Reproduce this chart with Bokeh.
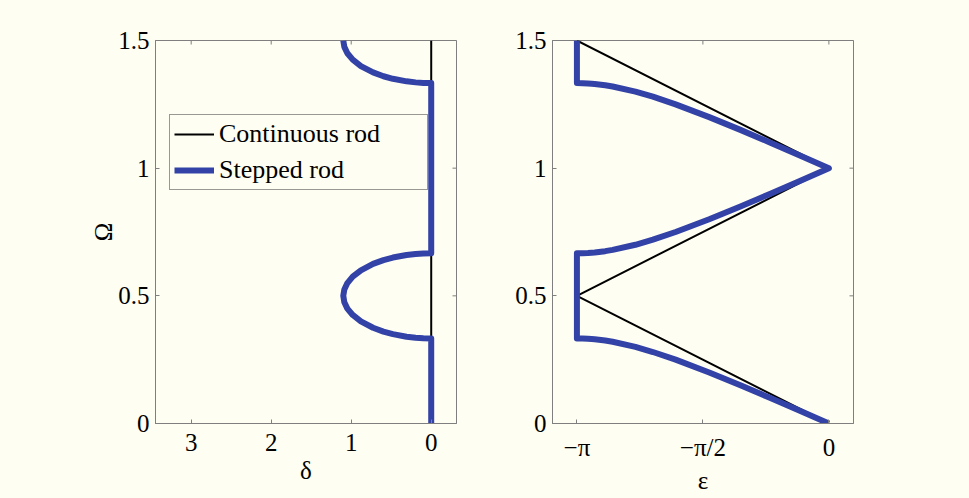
import math

from bokeh.plotting import figure
from bokeh.layouts import row
from bokeh.models import Range1d, FixedTicker, Legend, LegendItem
from bokeh.embed import file_html
from bokeh.resources import INLINE

PI = math.pi

# ---- data -----------------------------------------------------------------
# Continuous (uniform) rod: real wavenumber folded into [-pi, 0], no attenuation
omega_cont = [0.0, 0.5, 1.0, 1.5]
eps_cont = [0.0, -PI, 0.0, -PI]
delta_cont = [0.0, 0.0, 0.0, 0.0]

# Stepped rod: pass bands and stop bands (gaps at 1/3..2/3 and 4/3..5/3)
omega_step = [
    # pass band 1
    0.0, 0.05, 0.10, 0.15, 0.20, 0.25, 0.28, 0.30, 0.32, 0.325, 0.33, 0.331, 0.332, 0.333,
    # stop band 1
    0.3333, 0.334, 0.336, 0.34, 0.35, 0.36, 0.375, 0.40, 0.425, 0.45, 0.475, 0.50,
    0.525, 0.55, 0.575, 0.60, 0.625, 0.64, 0.65, 0.66, 0.664, 0.666, 0.6667,
    # pass band 2
    0.667, 0.668, 0.669, 0.67, 0.675, 0.68, 0.70, 0.72, 0.75, 0.80, 0.85, 0.90, 0.95, 1.00,
    # pass band 3
    1.05, 1.10, 1.15, 1.20, 1.25, 1.28, 1.30, 1.32, 1.325, 1.33, 1.331, 1.332, 1.333,
    # stop band 2
    1.3333, 1.334, 1.336, 1.34, 1.35, 1.36, 1.375, 1.40, 1.425, 1.45, 1.475, 1.50,
]
eps_step = [
    0.0, -0.362, -0.729, -1.103, -1.492, -1.911, -2.194, -2.412, -2.696, -2.789, -2.920, -2.958, -3.004, -3.072,
    -3.1416, -3.1416, -3.1416, -3.1416, -3.1416, -3.1416, -3.1416, -3.1416, -3.1416, -3.1416, -3.1416, -3.1416,
    -3.1416, -3.1416, -3.1416, -3.1416, -3.1416, -3.1416, -3.1416, -3.1416, -3.1416, -3.1416, -3.1416,
    -3.072, -3.004, -2.958, -2.920, -2.789, -2.696, -2.412, -2.194, -1.911, -1.492, -1.103, -0.729, -0.362, 0.0,
    -0.362, -0.729, -1.103, -1.492, -1.911, -2.194, -2.412, -2.696, -2.789, -2.920, -2.958, -3.004, -3.072,
    -3.1416, -3.1416, -3.1416, -3.1416, -3.1416, -3.1416, -3.1416, -3.1416, -3.1416, -3.1416, -3.1416, -3.1416,
]
delta_step = [
    0.0, 0.0, 0.0, 0.0, 0.0, 0.0, 0.0, 0.0, 0.0, 0.0, 0.0, 0.0, 0.0, 0.0,
    0.0, 0.098, 0.195, 0.308, 0.479, 0.597, 0.727, 0.879, 0.981, 1.048, 1.086, 1.099,
    1.086, 1.048, 0.981, 0.879, 0.727, 0.597, 0.479, 0.308, 0.195, 0.098, 0.0,
    0.0, 0.0, 0.0, 0.0, 0.0, 0.0, 0.0, 0.0, 0.0, 0.0, 0.0, 0.0, 0.0, 0.0,
    0.0, 0.0, 0.0, 0.0, 0.0, 0.0, 0.0, 0.0, 0.0, 0.0, 0.0, 0.0, 0.0,
    0.0, 0.098, 0.195, 0.308, 0.479, 0.597, 0.727, 0.879, 0.981, 1.048, 1.086, 1.099,
]

# ticks
omega_ticks = [0.0, 0.5, 1.0, 1.5]
omega_labels = ["0", "0.5", "1", "1.5"]
delta_ticks = [3.0, 2.0, 1.0, 0.0]
delta_labels = ["3", "2", "1", "0"]
eps_ticks = [-PI, -PI / 2, 0.0]
eps_labels = ["\u2212\u03c0", "\u2212\u03c0/2", "0"]

# ---- style ----------------------------------------------------------------
CREAM = "#fffef2"
GRAY = "#7f7f7f"
BLUE = "#3342a6"
FONT = "Liberation Serif"
TICK_FS = "25px"
LABEL_FS = "25px"
LEGEND_FS = "26px"


def style_axis(ax, ticks, labels, title, standoff, title_standoff):
    ax.ticker = FixedTicker(ticks=ticks)
    ax.major_label_overrides = dict(zip(ticks, labels))
    ax.major_tick_in = 4
    ax.major_tick_out = 0
    ax.minor_tick_line_color = None
    ax.axis_line_color = GRAY
    ax.major_tick_line_color = GRAY
    ax.major_label_text_font = FONT
    ax.major_label_text_font_size = TICK_FS
    ax.major_label_text_color = "black"
    ax.major_label_standoff = standoff
    if title:
        ax.axis_label = title
        ax.axis_label_text_font = FONT
        ax.axis_label_text_font_size = LABEL_FS
        ax.axis_label_text_font_style = "normal"
        ax.axis_label_text_color = "black"
        ax.axis_label_standoff = title_standoff


def mirror_ticks(p, xticks, yticks):
    """Inward tick marks along the top and right edges of the box."""
    y_top = p.y_range.end
    x_right = p.x_range.end
    p.scatter(xticks, [y_top] * len(xticks), marker="dash", angle=PI / 2,
              size=8, line_color=GRAY, line_width=1)
    p.scatter([x_right] * len(yticks), yticks, marker="dash",
              size=8, line_color=GRAY, line_width=1)


def make_fig(x_range, left, right):
    p = figure(
        frame_width=301, frame_height=383,
        x_range=x_range, y_range=Range1d(0, 1.5),
        min_border_left=left, min_border_right=right,
        min_border_top=40, min_border_bottom=75,
        output_backend="svg", toolbar_location=None,
        background_fill_color=CREAM, border_fill_color=CREAM,
        outline_line_color=GRAY,
    )
    p.grid.visible = False
    return p


# ---- left panel: attenuation delta ----------------------------------------
p1 = make_fig(Range1d(3.446, -0.316), 155, 24)
style_axis(p1.xaxis[0], delta_ticks, delta_labels, "\u03b4", 10, 3)
style_axis(p1.yaxis[0], omega_ticks, omega_labels, "\u03a9", 6, -2)
mirror_ticks(p1, delta_ticks, omega_ticks)

r_cont = p1.line(delta_cont, omega_cont, line_color="black", line_width=2)
r_step = p1.line(delta_step, omega_step, line_color=BLUE, line_width=6, line_join="round")

legend = Legend(
    items=[LegendItem(label="Continuous rod", renderers=[r_cont]),
           LegendItem(label="Stepped rod", renderers=[r_step])],
    location=(14, 233),
    padding=4, spacing=6, margin=0,
    glyph_width=40, glyph_height=20, label_standoff=5, label_width=204,
    label_text_font=FONT, label_text_font_size=LEGEND_FS, label_text_color="black",
    border_line_color="#333333", border_line_width=1,
    background_fill_color=CREAM, background_fill_alpha=1.0,
)
p1.add_layout(legend)

# ---- right panel: phase epsilon -------------------------------------------
p2 = make_fig(Range1d(-3.446, 0.307), 72, 116)
style_axis(p2.xaxis[0], eps_ticks, eps_labels, "\u03b5", 10, 3)
style_axis(p2.yaxis[0], omega_ticks, omega_labels, None, 6, 0)
mirror_ticks(p2, eps_ticks, omega_ticks)

p2.line(eps_cont, omega_cont, line_color="black", line_width=2)
p2.line(eps_step, omega_step, line_color=BLUE, line_width=6, line_join="round")

layout = row(p1, p2, spacing=0, styles={"background-color": CREAM})
open("out.html", "w").write(file_html(layout, INLINE))
